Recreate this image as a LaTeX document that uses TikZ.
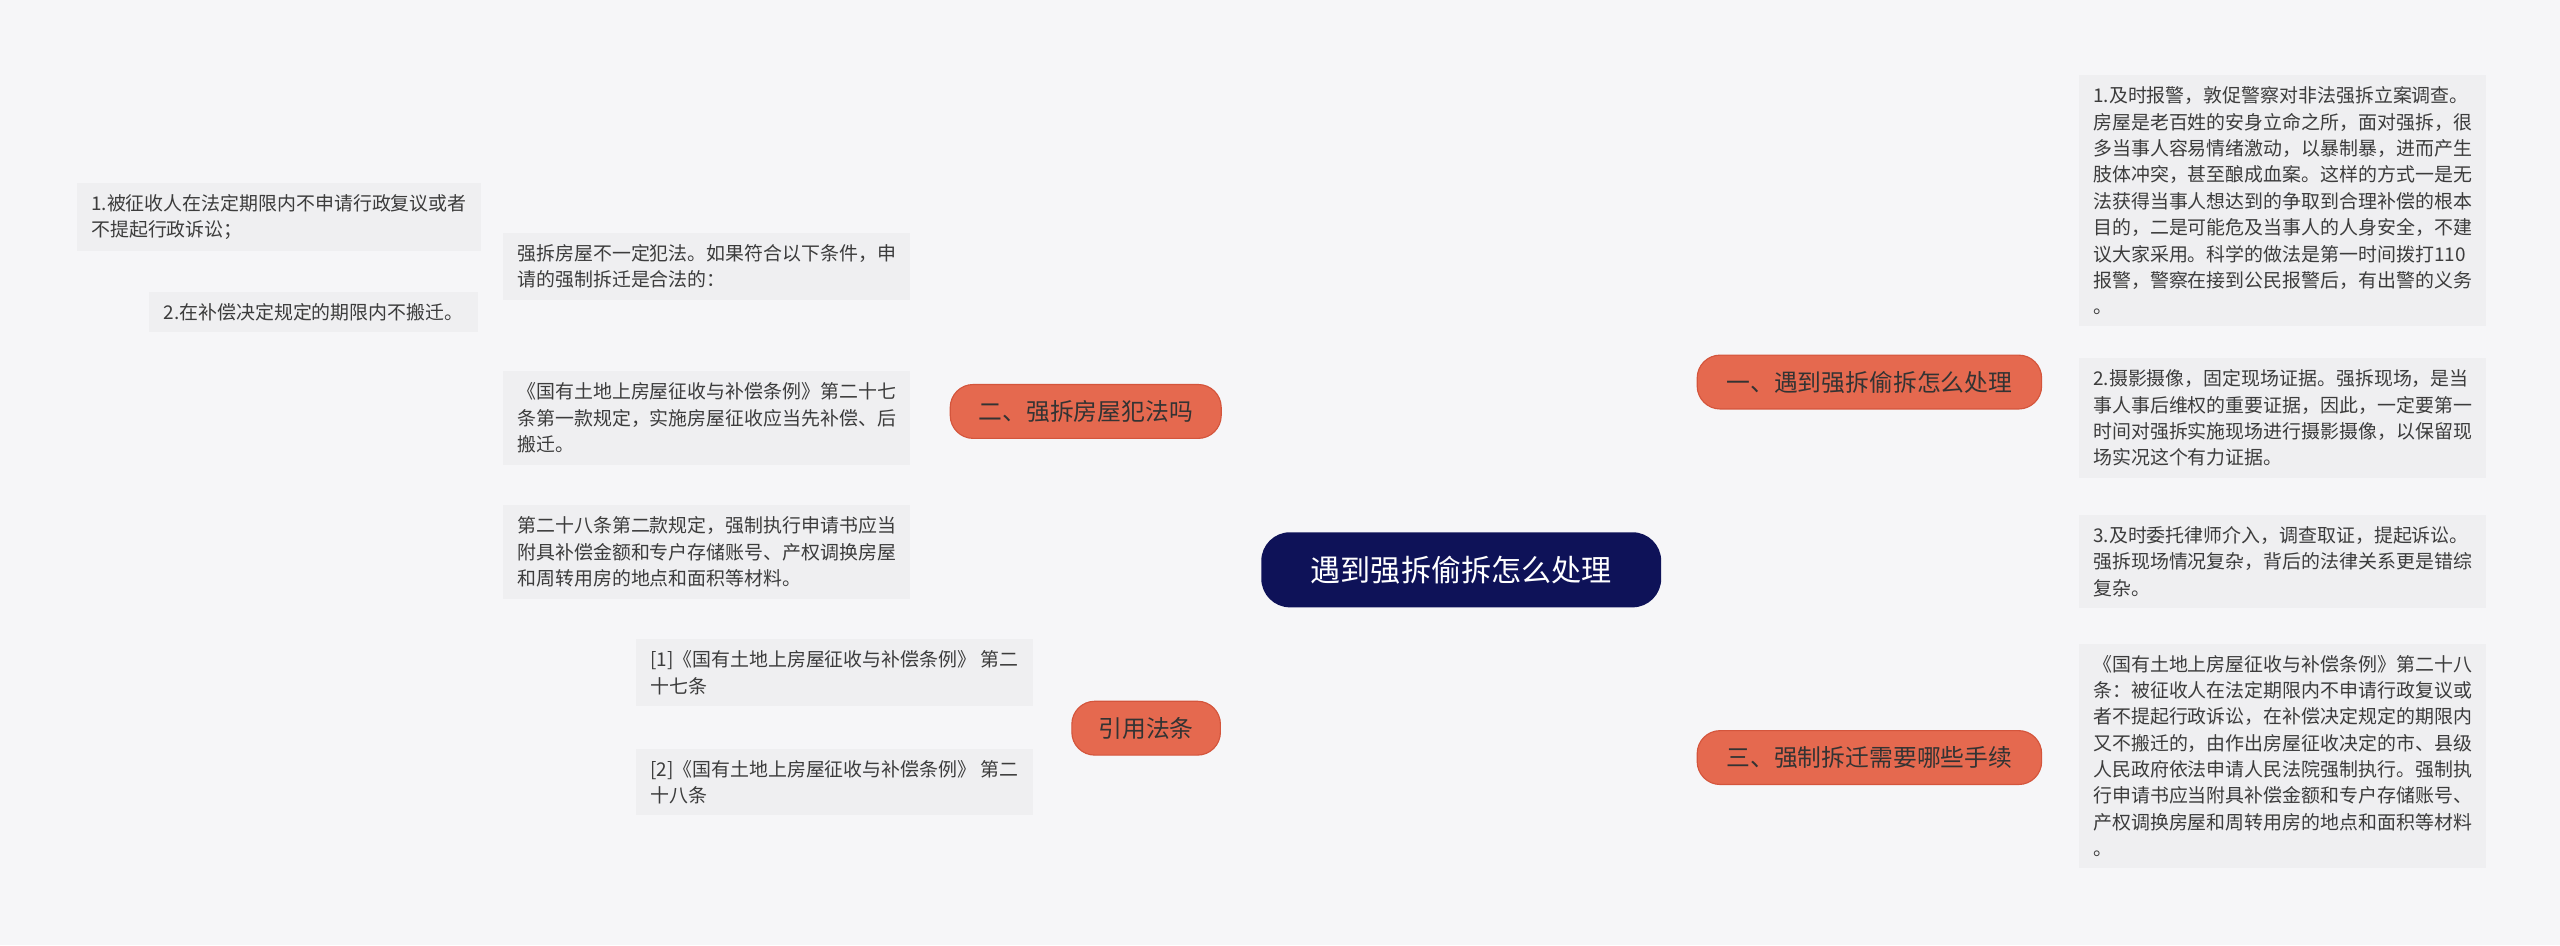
\documentclass[tikz,border=0pt]{standalone}
\usepackage{fontspec}
\setmainfont{Noto Sans CJK SC}
\usetikzlibrary{positioning}
\definecolor{navy}{HTML}{0E1258}
\definecolor{salmon}{HTML}{E5694F}
\definecolor{salmonline}{HTML}{D4553C}
\definecolor{leafbg}{HTML}{EFEFF1}
\definecolor{pagebg}{HTML}{F6F6F8}
\definecolor{leaftext}{HTML}{3C3C3C}
\pgfdeclarelayer{bg}
\pgfsetlayers{bg,main}
\tikzset{
  root/.style={fill=navy, text=white, rounded corners=10pt, minimum width=4.9cm, minimum height=0.92cm, font=\fontsize{10.5}{12}\selectfont},
  topic/.style={fill=salmon, draw=salmonline, text=black!80, rounded corners=8pt, minimum height=0.66cm, inner xsep=8pt, font=\fontsize{8.3}{10}\selectfont},
  leaf/.style={fill=leafbg, text=leaftext, align=left, inner xsep=5pt, inner ysep=4pt, font=\fontsize{6.6}{9.2}\selectfont},
  link/.style={navy, line width=0.9pt},
  branch/.style={navy, line width=0.6pt},
}
\begin{document}
\begin{tikzpicture}[x=0.02cm, y=-0.02cm]
    \fill[pagebg] (0,0) rectangle (1568,579);
    \useasboundingbox (0,0) rectangle (1568,579);

    % centre and topics
    \node[root] (c) at (895,349) {遇到强拆偷拆怎么处理};
    \node[topic, minimum width=4.22cm] (t1) at (1145,234) {一、遇到强拆偷拆怎么处理};
    \node[topic, minimum width=4.22cm] (t3) at (1145,464) {三、强制拆迁需要哪些手续};
    \node[topic, minimum width=3.32cm] (t2) at (665,252) {二、强拆房屋犯法吗};
    \node[topic, minimum width=1.82cm] (t4) at (702,446) {引用法条};

    % right leaves
    \node[leaf, anchor=west] (r1a) at (1273,123) {1.及时报警，敦促警察对非法强拆立案调查。\\房屋是老百姓的安身立命之所，面对强拆，很\\多当事人容易情绪激动，以暴制暴，进而产生\\肢体冲突，甚至酿成血案。这样的方式一是无\\法获得当事人想达到的争取到合理补偿的根本\\目的，二是可能危及当事人的人身安全，不建\\议大家采用。科学的做法是第一时间拨打110\\报警，警察在接到公民报警后，有出警的义务\\。};
    \node[leaf, anchor=west] (r1b) at (1273,256) {2.摄影摄像，固定现场证据。强拆现场，是当\\事人事后维权的重要证据，因此，一定要第一\\时间对强拆实施现场进行摄影摄像，以保留现\\场实况这个有力证据。};
    \node[leaf, anchor=west] (r1c) at (1273,344) {3.及时委托律师介入，调查取证，提起诉讼。\\强拆现场情况复杂，背后的法律关系更是错综\\复杂。};
    \node[leaf, anchor=west] (r3a) at (1273,463) {《国有土地上房屋征收与补偿条例》第二十八\\条：被征收人在法定期限内不申请行政复议或\\者不提起行政诉讼，在补偿决定规定的期限内\\又不搬迁的，由作出房屋征收决定的市、县级\\人民政府依法申请人民法院强制执行。强制执\\行申请书应当附具补偿金额和专户存储账号、\\产权调换房屋和周转用房的地点和面积等材料\\。};

    % left leaves
    \node[leaf, anchor=east] (l2a) at (558,163) {强拆房屋不一定犯法。如果符合以下条件，申\\请的强制拆迁是合法的：};
    \node[leaf, anchor=east] (l2b) at (558,256) {《国有土地上房屋征收与补偿条例》第二十七\\条第一款规定，实施房屋征收应当先补偿、后\\搬迁。};
    \node[leaf, anchor=east] (l2c) at (558,338) {第二十八条第二款规定，强制执行申请书应当\\附具补偿金额和专户存储账号、产权调换房屋\\和周转用房的地点和面积等材料。};
    \node[leaf, anchor=east] (l2a1) at (295,133) {1.被征收人在法定期限内不申请行政复议或者\\不提起行政诉讼；};
    \node[leaf, anchor=east] (l2a2) at (293,191) {2.在补偿决定规定的期限内不搬迁。};
    \node[leaf, anchor=east] (ref1) at (633,412) {[1]《国有土地上房屋征收与补偿条例》 第二\\十七条};
    \node[leaf, anchor=east] (ref2) at (633,479) {[2]《国有土地上房屋征收与补偿条例》 第二\\十八条};

    \begin{pgfonlayer}{bg}
        % centre to topics
        \draw[link] (c.center) .. controls (895,250) and (960,234) .. (t1.west);
        \draw[link] (c.center) .. controls (895,440) and (960,464) .. (t3.east -| t3.west);
        \draw[link] (c.center) .. controls (895,280) and (830,252) .. (t2.east);
        \draw[link] (c.center) .. controls (895,420) and (830,446) .. (t4.east);
        % topic brackets
        \foreach \l in {r1a, r1b, r1c}
            \draw[branch] (t1.east) .. controls (1264,234) and (1262,0 |- \l.west) .. (\l.west);
        \draw[branch] (t3.east) .. controls (1264,464) and (1262,463) .. (r3a.west);
        \foreach \l in {l2a, l2b, l2c}
            \draw[branch] (t2.west) .. controls (568,252) and (570,0 |- \l.east) .. (\l.east);
        \foreach \l in {ref1, ref2}
            \draw[branch] (t4.west) .. controls (643,446) and (645,0 |- \l.east) .. (\l.east);
        \foreach \l in {l2a1, l2a2}
            \draw[branch] (l2a.west) .. controls (306,163) and (308,0 |- \l.east) .. (\l.east);
    \end{pgfonlayer}
\end{tikzpicture}
\end{document}
